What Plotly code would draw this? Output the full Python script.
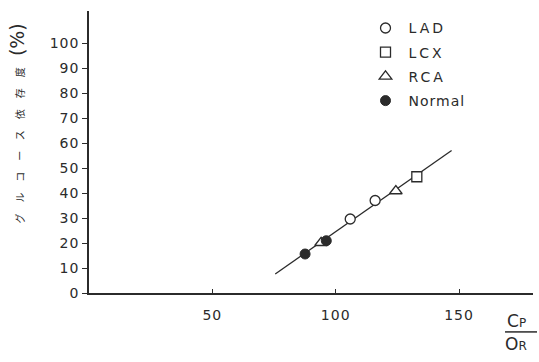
import plotly.graph_objects as go

# Data
lad_x = [105.9, 116.0]
lad_y = [29.6, 37.0]
lcx_x = [132.9]
lcx_y = [46.5]
rca_x = [94.1, 124.4]
rca_y = [20.1, 40.8]
normal_x = [87.6, 96.2]
normal_y = [15.6, 20.9]
line_x = [75.5, 147.0]
line_y = [7.6, 57.0]

x_ticks = [50, 100, 150]
y_ticks = [0, 10, 20, 30, 40, 50, 60, 70, 80, 90, 100]

ink = "#2b2b2b"
font_main = "DejaVu Sans, Liberation Sans, sans-serif"


def spaced(s, px=2):
    return f"<span style='letter-spacing:{px}px'>{s}</span>"


fig = go.Figure()
fig.add_trace(go.Scatter(x=line_x, y=line_y, mode="lines",
                         line=dict(color=ink, width=1.3), showlegend=False, hoverinfo="skip"))
fig.add_trace(go.Scatter(x=lad_x, y=lad_y, mode="markers", name=spaced("LAD", 3), legendgroup="a",
                         marker=dict(symbol="circle", size=10, color="white",
                                     line=dict(color=ink, width=1.3))))
fig.add_trace(go.Scatter(x=lcx_x, y=lcx_y, mode="markers", name=spaced("LCX", 3), legendgroup="b",
                         marker=dict(symbol="square", size=10, color="white",
                                     line=dict(color=ink, width=1.3))))
fig.add_trace(go.Scatter(x=rca_x, y=rca_y, mode="markers", name=spaced("RCA", 3), legendgroup="c",
                         marker=dict(symbol="triangle-up", size=11, color="white",
                                     line=dict(color=ink, width=1.3))))
fig.add_trace(go.Scatter(x=normal_x, y=normal_y, mode="markers", name=spaced("Normal", 1), legendgroup="d",
                         marker=dict(symbol="circle", size=10, color=ink,
                                     line=dict(color=ink, width=1))))

fig.update_layout(
    width=539, height=362,
    margin=dict(l=89, r=6, t=11, b=69),
    paper_bgcolor="white", plot_bgcolor="white",
    font=dict(family=font_main, color=ink, size=14),
    legend=dict(x=0.616, y=0.995, xanchor="left", yanchor="top", itemwidth=36,
                font=dict(size=14, family=font_main, color=ink),
                bgcolor="rgba(0,0,0,0)", tracegroupgap=3),
    xaxis=dict(range=[0, 180], tickvals=x_ticks, ticktext=[spaced(str(v), 1) for v in x_ticks],
               showgrid=False, zeroline=False, showline=True, linecolor=ink, linewidth=1.5,
               ticks="inside", ticklen=4, tickcolor=ink, tickwidth=1,
               ticklabelstandoff=8, tickfont=dict(size=14)),
    yaxis=dict(range=[0, 112.8], tickvals=y_ticks, ticktext=[spaced(str(v), 1) for v in y_ticks],
               showgrid=False, zeroline=False, showline=True, linecolor=ink, linewidth=1.5,
               ticks="outside", ticklen=5, tickcolor=ink, tickwidth=1,
               tickfont=dict(size=14)),
)

# Y-axis title
fig.add_annotation(
    text="<span style='letter-spacing:11px'>グルコース依存度</span>"
         "<span style='font-size:19px;font-family:DejaVu Sans'>(%)</span>",
    xref="paper", yref="paper", x=-0.163, y=0.6, xanchor="center", yanchor="middle",
    textangle=-90, showarrow=False,
    font=dict(family="Noto Sans CJK JP", size=10, color=ink))

# X-axis title as a fraction Cp / OR
fig.add_annotation(text="C<span style='font-size:12px'>P</span>",
                   xref="paper", yref="paper", x=0.962, y=-0.099, xanchor="center",
                   yanchor="middle", showarrow=False, font=dict(size=17, color=ink))
fig.add_annotation(text="O<span style='font-size:12px'>R</span>",
                   xref="paper", yref="paper", x=0.962, y=-0.18, xanchor="center",
                   yanchor="middle", showarrow=False, font=dict(size=17, color=ink))
fig.add_shape(type="line", xref="paper", yref="paper", x0=0.937, x1=1.009, y0=-0.138, y1=-0.138,
              line=dict(color=ink, width=1.5))

fig.write_html("out.html", config={"displayModeBar": False},
               post_script="document.body.style.margin='0';")
